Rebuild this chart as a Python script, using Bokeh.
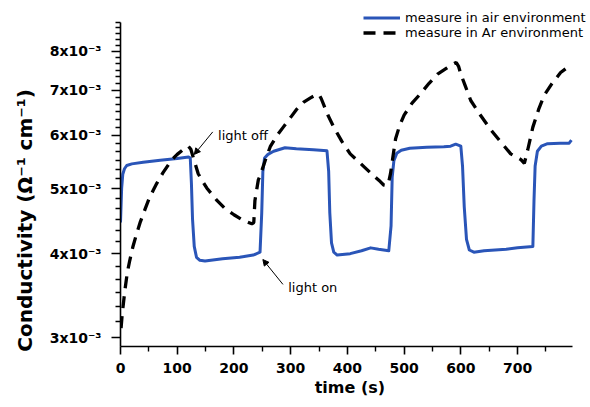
import math
from bokeh.plotting import figure
from bokeh.models import (Range1d, FixedTicker, Legend, LegendItem, Arrow,
                          NormalHead, Label)
from bokeh.embed import file_html
from bokeh.resources import INLINE

# ---- data (conductivity in units of 1e-3 S/cm) ----
air_t = [0, 2, 4, 7, 11, 20, 40, 70, 100, 120, 123,
         125, 127, 130, 134, 140, 149, 180, 210, 234, 246,
         249, 251, 254, 260, 270, 290, 310, 340, 364,
         367, 369, 372, 376, 382, 405, 425, 441, 455, 473,
         477, 479, 482, 487, 495, 510, 540, 570, 582, 591, 600,
         603, 606, 610, 615, 623, 641, 680, 700, 727,
         729, 731, 735, 742, 753, 775, 791, 795]
air_s = [4.45, 5.0, 5.25, 5.35, 5.41, 5.44, 5.47, 5.51, 5.54, 5.57, 5.55,
         5.1, 4.5, 4.1, 3.95, 3.91, 3.90, 3.93, 3.95, 3.98, 4.02,
         4.6, 5.3, 5.55, 5.62, 5.68, 5.75, 5.73, 5.71, 5.69,
         5.3, 4.6, 4.15, 4.02, 3.98, 4.00, 4.04, 4.08, 4.06, 4.04,
         4.4, 5.2, 5.5, 5.64, 5.70, 5.74, 5.76, 5.77, 5.78, 5.82, 5.78,
         5.4, 4.7, 4.2, 4.05, 4.02, 4.04, 4.06, 4.08, 4.10,
         4.8, 5.4, 5.68, 5.78, 5.83, 5.84, 5.84, 5.90]

ar_t = [1, 3, 7.6, 12, 16.4, 22, 28, 35, 43, 50, 57.7, 64, 75, 90, 100, 110,
        119.5, 124, 130, 137, 145, 152, 170, 184, 200, 217, 231.5, 235,
        237, 243, 246, 255, 264, 275, 287, 300, 310, 323, 335, 343, 350,
        354, 358, 366, 376, 390, 405, 417, 430, 446.5, 458, 464, 470,
        473, 476, 480, 485, 492, 500, 514, 529, 544, 559, 575, 588, 592,
        596, 600, 608, 617.5, 635, 653, 670, 688, 706, 712,
        718, 727, 737, 747, 760, 776, 786, 794]
ar_s = [3.10, 3.25, 3.52, 3.75, 3.91, 4.10, 4.27, 4.46, 4.65, 4.82, 4.97, 5.09, 5.28, 5.51, 5.62, 5.71,
        5.78, 5.72, 5.50, 5.26, 5.12, 5.01, 4.80, 4.67, 4.57, 4.48, 4.43, 4.45,
        4.80, 5.15, 5.22, 5.50, 5.77, 5.98, 6.17, 6.38, 6.55, 6.72, 6.82, 6.88, 6.90,
        6.80, 6.67, 6.42, 6.17, 5.88, 5.63, 5.51, 5.38, 5.22, 5.12, 5.06, 5.05,
        5.12, 5.26, 5.55, 5.93, 6.20, 6.43, 6.70, 6.92, 7.17, 7.40, 7.55, 7.67, 7.70,
        7.60, 7.40, 7.10, 6.76, 6.42, 6.11, 5.87, 5.63, 5.52, 5.45,
        5.71, 6.17, 6.55, 6.88, 7.15, 7.44, 7.55, 7.63]

x_ticks = [0, 100, 200, 300, 400, 500, 600, 700]
x_minor = [50, 150, 250, 350, 450, 550, 650, 750]
y_ticks = [3e-3, 4e-3, 5e-3, 6e-3, 7e-3, 8e-3]
y_tick_labels = ["3x10\u207b\u00b3", "4x10\u207b\u00b3", "5x10\u207b\u00b3",
                 "6x10\u207b\u00b3", "7x10\u207b\u00b3", "8x10\u207b\u00b3"]
y_minor = [(m + k / 6.0) * 1e-3 for m in range(3, 9) for k in range(1, 6)]

legend_labels = ["measure in air environment", "measure in Ar environment"]

# annotation anchors (data coords)
off_arrow = [162.6, 6.07e-3, 130.1, 5.62e-3]
off_text = [172, 6.0e-3]
on_arrow = [286.4, 3.60e-3, 251.0, 3.92e-3]
on_text = [295.7, 3.56e-3]

# visible axis extents
X0, X1 = 0, 796
Y0, Y1 = 2.91e-3, 8.83e-3

# ---- geometry (px) ----
W, H = 590, 407
LEFT, AX_RIGHT, FR_RIGHT = 120, 571.5, 590      # axis spans to AX_RIGHT, frame to FR_RIGHT
TOP_AX, FR_TOP, BOTTOM = 22, 4, 346              # axis top, frame top, axis bottom

x_end = X0 + (X1 - X0) * (FR_RIGHT - LEFT) / (AX_RIGHT - LEFT)
ly0, ly1 = math.log10(Y0), math.log10(Y1)
y_end = 10 ** (ly0 + (ly1 - ly0) * (BOTTOM - FR_TOP) / (BOTTOM - TOP_AX))

BLUE = "#2a55b8"
FONT = "DejaVu Sans"

p = figure(width=W, height=H, output_backend="svg", toolbar_location=None,
           y_axis_type="log", x_range=Range1d(X0, x_end),
           y_range=Range1d(Y0, y_end),
           min_border_left=LEFT, min_border_right=W - FR_RIGHT,
           min_border_top=FR_TOP, min_border_bottom=H - BOTTOM)
p.outline_line_color = None
p.xgrid.visible = False
p.ygrid.visible = False
p.background_fill_color = "white"
p.border_fill_color = "white"

r_air = p.line(air_t, [v * 1e-3 for v in air_s],
               line_color=BLUE, line_width=3, line_join="round")
r_ar = p.line(ar_t, [v * 1e-3 for v in ar_s],
              line_color="black", line_width=3.3, line_dash="12 8",
              line_cap="butt")

# axes
xa = p.xaxis[0]
xa.ticker = FixedTicker(ticks=x_ticks, minor_ticks=x_minor)
xa.bounds = (X0, X1)
xa.axis_label = "time (s)" + "\u2002" + "\u2009"
ya = p.yaxis[0]
ya.ticker = FixedTicker(ticks=y_ticks, minor_ticks=y_minor)
ya.bounds = (Y0, Y1)
ya.major_label_overrides = {v: s for v, s in zip(y_ticks, y_tick_labels)}
ya.axis_label = "Conductivity (\u03a9\u207b\u00b9 cm\u207b\u00b9)" + "\u2003" * 4 + "\u2002"

for ax in (xa, ya):
    ax.axis_line_width = 1.6
    ax.major_tick_line_width = 1.6
    ax.minor_tick_line_width = 1.4
    ax.major_tick_in = 0
    ax.minor_tick_in = 0
    ax.major_label_text_font = FONT
    ax.major_label_text_font_style = "bold"
    ax.major_label_text_font_size = "14px"
    ax.major_label_text_color = "black"
    ax.axis_label_text_font = FONT
    ax.axis_label_text_font_style = "bold"
    ax.axis_label_text_color = "black"

xa.major_tick_out = 8
xa.minor_tick_out = 5
xa.major_label_standoff = 8
xa.axis_label_text_font_size = "16px"
xa.axis_label_standoff = 2
ya.major_tick_out = 9
ya.minor_tick_out = 5
ya.major_label_standoff = 10
ya.axis_label_text_font_size = "20px"
ya.axis_label_standoff = 10

# legend (location = bottom-left corner, pixels from frame's bottom-left)
legend = Legend(items=[LegendItem(label=legend_labels[0], renderers=[r_air]),
                       LegendItem(label=legend_labels[1], renderers=[r_ar])],
                location=(363 - LEFT, BOTTOM - 40), orientation="vertical")
legend.glyph_width = 37
legend.glyph_height = 13
legend.label_height = 13
legend.spacing = 0
legend.padding = 0
legend.margin = 0
legend.label_standoff = 5
legend.border_line_alpha = 0
legend.background_fill_alpha = 0
legend.label_text_font = FONT
legend.label_text_font_size = "13px"
legend.label_text_color = "black"
p.add_layout(legend, "center")

# annotations
p.add_layout(Arrow(x_start=off_arrow[0], y_start=off_arrow[1],
                   x_end=off_arrow[2], y_end=off_arrow[3],
                   line_width=1, line_color="black",
                   end=NormalHead(size=6, fill_color="black", line_color="black")))
p.add_layout(Label(x=off_text[0], y=off_text[1], text="light off",
                   text_font=FONT, text_font_size="13px",
                   text_baseline="middle", text_color="black"))
p.add_layout(Arrow(x_start=on_arrow[0], y_start=on_arrow[1],
                   x_end=on_arrow[2], y_end=on_arrow[3],
                   line_width=1, line_color="black",
                   end=NormalHead(size=6, fill_color="black", line_color="black")))
p.add_layout(Label(x=on_text[0], y=on_text[1], text="light on",
                   text_font=FONT, text_font_size="13px",
                   text_baseline="middle", text_color="black"))

open("out.html", "w").write(file_html(p, INLINE))
